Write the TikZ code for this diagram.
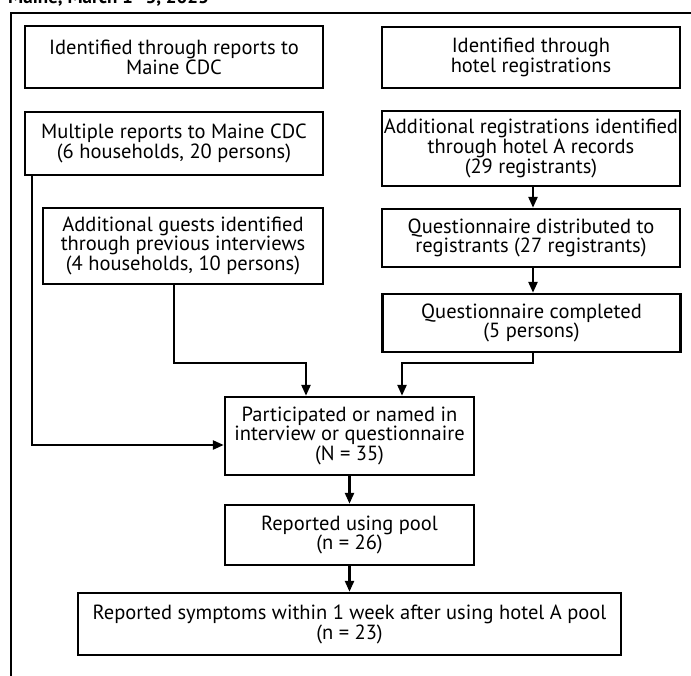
\documentclass[tikz,border=0pt]{standalone}
\usepackage{fontspec}
\setmainfont{PT Sans}
\usetikzlibrary{arrows.meta,calc}
\begin{document}
\begin{tikzpicture}[x=1pt,y=-1pt,
  box/.style={draw=black,line width=2.4pt,rectangle,inner sep=0pt,align=center,
    font=\fontsize{20.5}{17.5}\selectfont},
  arr/.style={line width=2.4pt,-{Triangle[length=11pt,width=9pt]}},
  frame/.style={line width=2.4pt}]
\useasboundingbox (0,0) rectangle (691,675);
\clip (0,0) rectangle (691,675);
\node[anchor=base west,inner sep=0pt,font=\fontsize{19}{19}\selectfont\bfseries] (title) at (8,3) {Maine, March 1–3, 2023};
\draw[frame] (700,13) -- (11,13) -- (11,690);
\node[box,minimum width=298pt,minimum height=62pt] (b1) at (174,57) {Identified through reports to\\Maine CDC};
\node[box,minimum width=298pt,minimum height=61pt] (b2) at (531,57.5) {Identified through\\hotel registrations};
\node[box,minimum width=298pt,minimum height=63pt] (b3) at (174,143.5) {Multiple reports to Maine CDC\\(6 households, 20 persons)};
\node[box,minimum width=298pt,minimum height=75pt] (b4) at (531,148.5) {Additional registrations identified\\through hotel A records\\(29 registrants)};
\node[box,minimum width=280pt,minimum height=76pt] (b5) at (183,246) {Additional guests identified\\through previous interviews\\(4 households, 10 persons)};
\node[box,minimum width=298pt,minimum height=58pt] (b6) at (531,238) {Questionnaire distributed to\\registrants (27 registrants)};
\node[box,minimum width=298pt,minimum height=58pt] (b7) at (531.5,323) {Questionnaire completed\\(5 persons)};
\node[box,minimum width=249pt,minimum height=78pt] (b8) at (349.5,436) {Participated or named in\\interview or questionnaire\\(N = 35)};
\node[box,minimum width=249pt,minimum height=60pt] (b9) at (349.5,535) {Reported using pool\\(n = 26)};
\node[box,minimum width=543pt,minimum height=62pt] (b10) at (349.5,624) {Reported symptoms within 1 week after using hotel A pool\\(n = 23)};
\draw[arr] ([xshift=8pt]b3.south west) |- ([yshift=-9pt]b8.west);
\draw[arr] ([xshift=-9pt]b5.south) -- ++(0,78) -| ([xshift=-43.5pt]b8.north);
\draw[arr] ([xshift=1.5pt]b7.south) -- ++(0,10) -| ([xshift=52.5pt]b8.north);
\draw[arr] ([xshift=2pt]b4.south) -- ([xshift=2pt]b4.south |- b6.north);
\draw[arr] ([xshift=2pt]b6.south) -- ([xshift=2pt]b6.south |- b7.north);
\draw[arr] (b8.south) -- (b9.north);
\draw[arr] (b9.south) -- (b10.north);
\end{tikzpicture}
\end{document}
